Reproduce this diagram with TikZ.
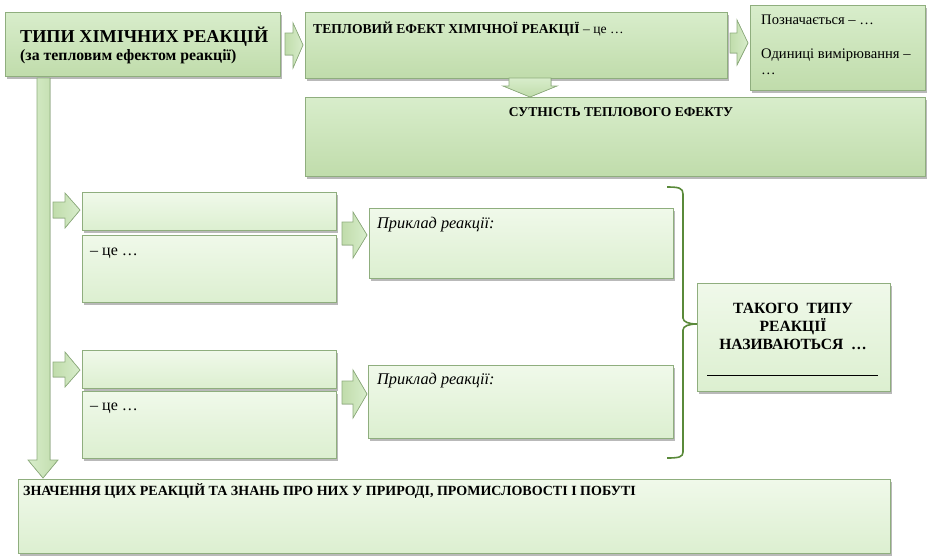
\documentclass[tikz,border=0pt]{standalone}
\usepackage{fontspec}
\setmainfont{Liberation Serif}
\newfontfamily\tnr{Liberation Serif}
\usetikzlibrary{shadows}
\definecolor{dkA}{HTML}{D8EDCB}
\definecolor{dkB}{HTML}{C0DCAB}
\definecolor{ltA}{HTML}{F0F9EA}
\definecolor{ltB}{HTML}{DCEFD0}
\definecolor{bord}{HTML}{8FAE7E}
\definecolor{brk}{HTML}{5A8A3A}
\tikzset{
  base/.style={draw=bord, line width=0.9pt, anchor=north west, inner sep=0pt,
    drop shadow={shadow xshift=1.8pt, shadow yshift=-2.2pt, fill=black!50, opacity=0.55}},
  dkbox/.style={base, top color=dkA, bottom color=dkB},
  ltbox/.style={base, top color=ltA, bottom color=ltB},
  barrow/.style={draw=bord, line width=0.7pt, left color=dkB, right color=dkA},
  vbarrow/.style={draw=bord, line width=0.7pt, top color=dkA, bottom color=dkB},
  txt/.style={anchor=base west, inner sep=0pt},
  ctxt/.style={anchor=base, inner sep=0pt},
}
\begin{document}
\begin{tikzpicture}[x=1pt,y=-1pt]
\useasboundingbox (0,0) rectangle (936,557);
% boxes
\node[dkbox, minimum width=275pt, minimum height=64pt] (title) at (5,12) {};
\node[dkbox, minimum width=422pt, minimum height=66pt] (eff) at (305,12) {};
\node[dkbox, minimum width=175pt, minimum height=85pt] (des) at (750,5) {};
\node[dkbox, minimum width=620pt, minimum height=79pt] (ess) at (305,97) {};
\node[ltbox, minimum width=254pt, minimum height=38pt] (a1) at (82,192) {};
\node[ltbox, minimum width=254pt, minimum height=67pt] (a2) at (82,235) {};
\node[ltbox, minimum width=304pt, minimum height=70pt] (e1) at (369,208) {};
\node[ltbox, minimum width=254pt, minimum height=38pt] (b1) at (82,350) {};
\node[ltbox, minimum width=254pt, minimum height=67pt] (b2) at (82,391) {};
\node[ltbox, minimum width=305pt, minimum height=73pt] (e2) at (368,365) {};
\node[ltbox, minimum width=193pt, minimum height=108pt] (tk) at (697,283) {};
\node[ltbox, minimum width=872pt, minimum height=74pt] (zn) at (18,479) {};
% block arrows
\filldraw[barrow] (285,33) -- (293,33) -- (293,23) -- (303,45) -- (293,68) -- (293,55) -- (285,55) -- cycle;
\filldraw[barrow] (730,33) -- (737,33) -- (737,20) -- (748,43) -- (737,65) -- (737,53) -- (730,53) -- cycle;
\filldraw[vbarrow] (509,78) -- (551,78) -- (551,86) -- (557,86) -- (530,97) -- (503,86) -- (509,86) -- cycle;
\filldraw[barrow] (53,202) -- (65,202) -- (65,193) -- (80,210) -- (65,228) -- (65,218) -- (53,218) -- cycle;
\filldraw[barrow] (53,362) -- (65,362) -- (65,352) -- (80,370) -- (65,387) -- (65,377) -- (53,377) -- cycle;
\filldraw[barrow] (342,222) -- (353,222) -- (353,212) -- (367,235) -- (353,258) -- (353,245) -- (342,245) -- cycle;
\filldraw[barrow] (342,381) -- (353,381) -- (353,370) -- (367,394) -- (353,418) -- (353,404) -- (342,404) -- cycle;
% vertical bar with arrow
\filldraw[draw=bord, line width=0.7pt, left color=dkA, right color=dkB] (37,78) -- (50,78) -- (50,460) -- (58,460) -- (43,478) -- (28,460) -- (37,460) -- cycle;
% bracket
\draw[brk, line width=1.6pt] (667,187) .. controls (679,187) and (683,188) .. (683,194) -- (683,318) .. controls (683,322) and (689,324) .. (697,324) .. controls (689,324) and (683,326) .. (683,330) -- (683,452) .. controls (683,457) and (679,458) .. (667,458);
% texts
\node[txt, font=\tnr\fontsize{18.2}{20}\selectfont\bfseries] (t1) at (20,42) {ТИПИ ХІМІЧНИХ РЕАКЦІЙ};
\node[txt, font=\tnr\fontsize{15.8}{17}\selectfont\bfseries] (t2) at (20,60) {(за тепловим ефектом реакції)};
\node[txt, font=\tnr\fontsize{13.6}{15}\selectfont] (te) at (313,33) {\textbf{ТЕПЛОВИЙ ЕФЕКТ ХІМІЧНОЇ РЕАКЦІЇ} – це …};
\node[txt, font=\tnr\fontsize{14.6}{16}\selectfont] (d1) at (761,24) {Позначається – …};
\node[txt, font=\tnr\fontsize{14.6}{16}\selectfont] (d2) at (761,58) {Одиниці вимірювання –};
\node[txt, font=\tnr\fontsize{14.6}{16}\selectfont] (d3) at (761,74) {…};
\node[ctxt, font=\tnr\fontsize{13.5}{15}\selectfont\bfseries] (es) at (621,116) {СУТНІСТЬ ТЕПЛОВОГО ЕФЕКТУ};
\node[txt, font=\tnr\fontsize{16}{18}\selectfont] (c1) at (90,255) {– це …};
\node[txt, font=\tnr\fontsize{16}{18}\selectfont] (c2) at (90,410) {– це …};
\node[txt, font=\tnr\fontsize{16.3}{18}\selectfont\itshape] (p1) at (377,228) {Приклад реакції:};
\node[txt, font=\tnr\fontsize{16.3}{18}\selectfont\itshape] (p2) at (377,384) {Приклад реакції:};
\node[ctxt, font=\tnr\fontsize{15.6}{17}\selectfont\bfseries] (k1) at (793,313) {ТАКОГО \ ТИПУ};
\node[ctxt, font=\tnr\fontsize{15.6}{17}\selectfont\bfseries] (k2) at (793,331) {РЕАКЦІЇ};
\node[ctxt, font=\tnr\fontsize{15.6}{17}\selectfont\bfseries] (k3) at (793,349) {НАЗИВАЮТЬСЯ \ …};
\draw[line width=0.8pt] (707,375) -- (878,375);
\node[txt, font=\tnr\fontsize{14}{16}\selectfont\bfseries] (zt) at (23,495) {ЗНАЧЕННЯ ЦИХ РЕАКЦІЙ ТА ЗНАНЬ ПРО НИХ У ПРИРОДІ, ПРОМИСЛОВОСТІ І ПОБУТІ};
\end{tikzpicture}
\end{document}
